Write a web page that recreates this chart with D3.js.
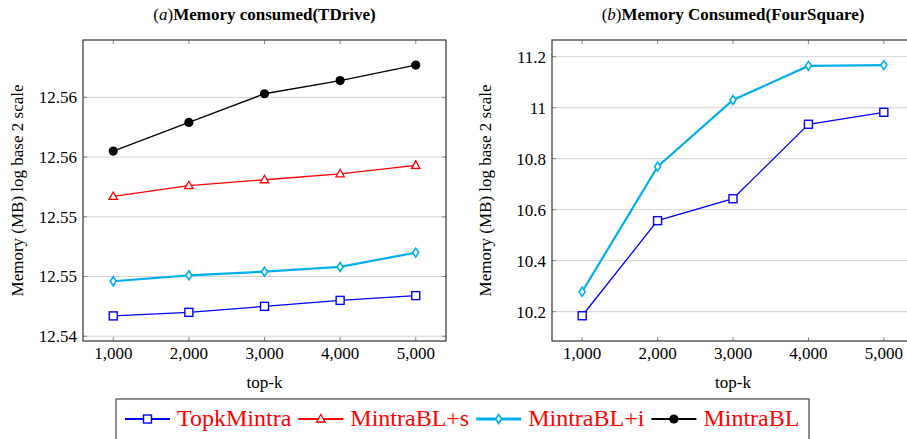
<!DOCTYPE html>
<html>
<head>
<meta charset="utf-8">
<script src="https://cdn.jsdelivr.net/npm/d3@7"></script>
<style>
  body { margin: 0; background: #fff; }
  svg text { font-family: "Liberation Serif", "Times New Roman", Times, "DejaVu Serif", serif; }
  .tick-label { font-size: 17px; fill: #000; }
  .axis-label { font-size: 17px; fill: #000; }
  .title { font-size: 17px; }
  .legend-text { font-size: 24px; fill: #ff0000; }
</style>
</head>
<body>
<svg id="chart" width="907" height="439"></svg>
<script>
const topK = [1000, 2000, 3000, 4000, 5000];

// (a) TDrive
const tdriveTopkMintra = [12.5417, 12.5420, 12.5425, 12.5430, 12.5434];
const tdriveMintraBLs = [12.5517, 12.5526, 12.5531, 12.5536, 12.5543];
const tdriveMintraBLi = [12.5446, 12.5451, 12.5454, 12.5458, 12.5470];
const tdriveMintraBL = [12.5555, 12.5579, 12.5603, 12.5614, 12.5627];
const tdriveTicks = [12.540, 12.545, 12.550, 12.555, 12.560];
const tdriveTickLabels = ['12.54', '12.55', '12.55', '12.56', '12.56'];

// (b) FourSquare
const fsTopkMintra = [10.184, 10.557, 10.643, 10.935, 10.982];
const fsMintraBLi = [10.278, 10.769, 11.030, 11.164, 11.167];
const fsTicks = [10.2, 10.4, 10.6, 10.8, 11.0, 11.2];
const fsTickLabels = ['10.2', '10.4', '10.6', '10.8', '11', '11.2'];

const xTickLabels = ['1,000', '2,000', '3,000', '4,000', '5,000'];

const series = {
  TopkMintra: { color: '#0000ff', width: 1.3, marker: 'square' },
  'MintraBL+s': { color: '#ff0000', width: 1.3, marker: 'triangle' },
  'MintraBL+i': { color: '#00aeef', width: 2.2, marker: 'diamond' },
  MintraBL: { color: '#000000', width: 1.3, marker: 'circle' },
};

const svg = d3.select('#chart');

function drawMarker(g, kind, color, cx, cy) {
  if (kind === 'square') {
    g.append('rect')
      .attr('x', cx - 4).attr('y', cy - 4)
      .attr('width', 8).attr('height', 8)
      .attr('fill', '#fff').attr('stroke', color).attr('stroke-width', 1.4);
  } else if (kind === 'triangle') {
    g.append('path')
      .attr('d', `M${cx},${cy - 4.5}L${cx + 4.2},${cy + 3}L${cx - 4.2},${cy + 3}Z`)
      .attr('fill', '#fff').attr('stroke', color).attr('stroke-width', 1.3);
  } else if (kind === 'diamond') {
    g.append('path')
      .attr('d', `M${cx},${cy - 4.5}L${cx + 3},${cy}L${cx},${cy + 4.5}L${cx - 3},${cy}Z`)
      .attr('fill', '#fff').attr('stroke', color).attr('stroke-width', 1.6);
  } else {
    g.append('circle')
      .attr('cx', cx).attr('cy', cy).attr('r', 4.6)
      .attr('fill', color);
  }
}

function panel(opts) {
  const { left, right, top, bottom, yDomain, ticks, tickLabels, lines, letter, title } = opts;

  const x = d3.scaleLinear().domain([600, 5400]).range([left, right]);
  const y = d3.scaleLinear().domain(yDomain).range([bottom, top]);

  const g = svg.append('g');

  // grid
  g.selectAll('.grid')
    .data(ticks)
    .enter()
    .append('line')
    .attr('x1', left).attr('x2', right)
    .attr('y1', d => y(d)).attr('y2', d => y(d))
    .attr('stroke', '#d3d3d3').attr('stroke-width', 1);

  // inner ticks on all sides
  const tickColor = '#888';
  ticks.forEach(t => {
    g.append('line').attr('x1', left).attr('x2', left + 4)
      .attr('y1', y(t)).attr('y2', y(t)).attr('stroke', tickColor);
    g.append('line').attr('x1', right - 4).attr('x2', right)
      .attr('y1', y(t)).attr('y2', y(t)).attr('stroke', tickColor);
  });
  topK.forEach(k => {
    g.append('line').attr('x1', x(k)).attr('x2', x(k))
      .attr('y1', bottom).attr('y2', bottom - 4).attr('stroke', tickColor);
    g.append('line').attr('x1', x(k)).attr('x2', x(k))
      .attr('y1', top).attr('y2', top + 4).attr('stroke', tickColor);
  });

  // frame
  g.append('rect')
    .attr('x', left).attr('y', top)
    .attr('width', right - left).attr('height', bottom - top)
    .attr('fill', 'none').attr('stroke', '#333').attr('stroke-width', 1.2);

  // tick labels
  g.selectAll('.ylab')
    .data(ticks)
    .enter()
    .append('text')
    .attr('class', 'tick-label')
    .attr('x', left - 6)
    .attr('y', d => y(d))
    .attr('dy', '0.35em')
    .attr('text-anchor', 'end')
    .text((d, i) => tickLabels[i]);

  g.selectAll('.xlab')
    .data(topK)
    .enter()
    .append('text')
    .attr('class', 'tick-label')
    .attr('x', d => x(d))
    .attr('y', bottom + 18)
    .attr('text-anchor', 'middle')
    .text((d, i) => xTickLabels[i]);

  // axis labels
  g.append('text')
    .attr('class', 'axis-label')
    .attr('x', (left + right) / 2)
    .attr('y', bottom + 47)
    .attr('text-anchor', 'middle')
    .text('top-k');

  g.append('text')
    .attr('class', 'axis-label')
    .attr('transform', `translate(${opts.yLabelX}, ${(top + bottom) / 2}) rotate(-90)`)
    .attr('text-anchor', 'middle')
    .text('Memory (MB) log base 2 scale');

  // title
  const t = g.append('text')
    .attr('class', 'title')
    .attr('x', (left + right) / 2)
    .attr('y', 20)
    .attr('text-anchor', 'middle');
  t.append('tspan').text('(');
  t.append('tspan').attr('font-style', 'italic').text(letter);
  t.append('tspan').text(')');
  t.append('tspan').attr('font-weight', 'bold').text(title);

  // series
  const line = d3.line()
    .x((d, i) => x(topK[i]))
    .y(d => y(d));

  lines.forEach(s => {
    const st = series[s.name];
    g.append('path')
      .datum(s.values)
      .attr('d', line)
      .attr('fill', 'none')
      .attr('stroke', st.color)
      .attr('stroke-width', st.width);
    s.values.forEach((v, i) => drawMarker(g, st.marker, st.color, x(topK[i]), y(v)));
  });
}

panel({
  left: 83, right: 446, top: 40, bottom: 341,
  yDomain: [12.5396, 12.5648],
  ticks: tdriveTicks,
  tickLabels: tdriveTickLabels,
  yLabelX: 23,
  letter: 'a',
  title: 'Memory consumed(TDrive)',
  lines: [
    { name: 'TopkMintra', values: tdriveTopkMintra },
    { name: 'MintraBL+s', values: tdriveMintraBLs },
    { name: 'MintraBL+i', values: tdriveMintraBLi },
    { name: 'MintraBL', values: tdriveMintraBL },
  ],
});

panel({
  left: 552, right: 914, top: 40, bottom: 341,
  yDomain: [10.085, 11.2655],
  ticks: fsTicks,
  tickLabels: fsTickLabels,
  yLabelX: 491,
  letter: 'b',
  title: 'Memory Consumed(FourSquare)',
  lines: [
    { name: 'TopkMintra', values: fsTopkMintra },
    { name: 'MintraBL+i', values: fsMintraBLi },
  ],
});

// legend
const legendNames = ['TopkMintra', 'MintraBL+s', 'MintraBL+i', 'MintraBL'];
const legend = svg.append('g');
legend.append('rect')
  .attr('x', 116).attr('y', 399)
  .attr('width', 693).attr('height', 60)
  .attr('fill', '#fff').attr('stroke', '#444').attr('stroke-width', 1.2);

let lx = 125;
const ly = 419;
legendNames.forEach(name => {
  const st = series[name];
  legend.append('line')
    .attr('x1', lx).attr('x2', lx + 45)
    .attr('y1', ly).attr('y2', ly)
    .attr('stroke', st.color).attr('stroke-width', st.width + 0.8);
  drawMarker(legend, st.marker, st.color, lx + 22.5, ly);
  const txt = legend.append('text')
    .attr('class', 'legend-text')
    .attr('x', lx + 52)
    .attr('y', ly + 7)
    .text(name);
  const w = txt.node().getComputedTextLength();
  lx = lx + 52 + w + 7;
});
</script>
</body>
</html>
